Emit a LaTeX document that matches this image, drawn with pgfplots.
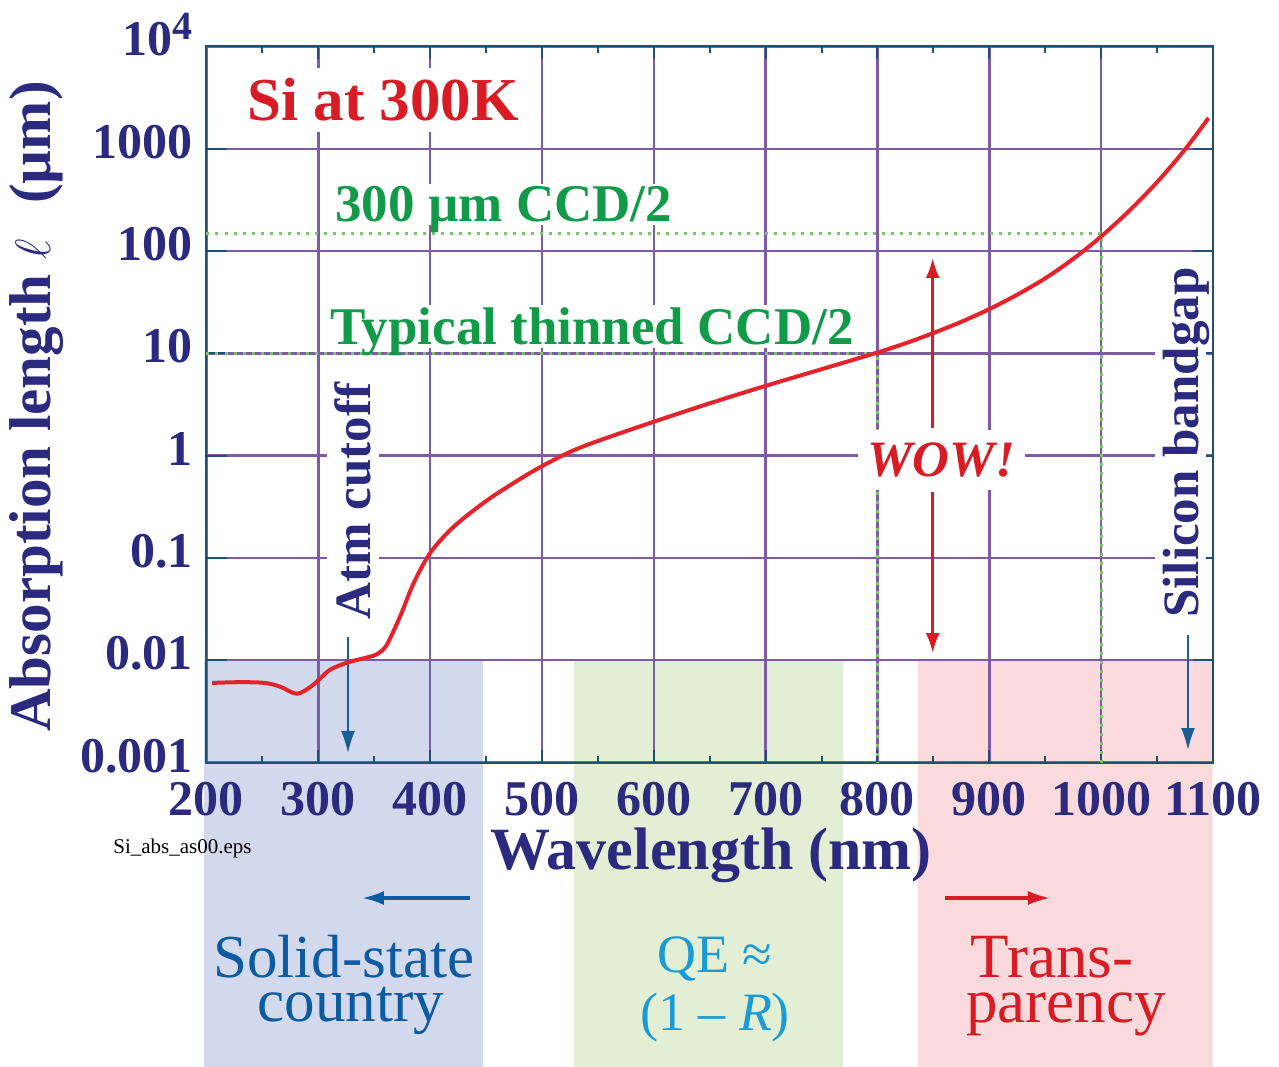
\documentclass[border=0pt]{standalone}
\usepackage{fontspec}
\setmainfont{Liberation Serif}
\usepackage{pgfplots}
\pgfplotsset{compat=1.18}
\usetikzlibrary{arrows.meta}
\definecolor{navy}{HTML}{2B2A7F}
\definecolor{frame}{HTML}{1F4E79}
\definecolor{gridc}{HTML}{7D5BA6}
\definecolor{redt}{HTML}{D91B24}
\definecolor{curvec}{HTML}{E8222A}
\definecolor{greent}{HTML}{119A48}
\definecolor{greendot}{HTML}{7DC36B}
\definecolor{rectblue}{HTML}{D3D9EC}
\definecolor{rectgreen}{HTML}{E2EFD5}
\definecolor{rectpink}{HTML}{FADADD}
\definecolor{solidblue}{HTML}{0B5AA2}
\definecolor{qecyan}{HTML}{1A9AD7}
\definecolor{arrowblue}{HTML}{1A5E96}
\begin{document}
\begin{tikzpicture}
\begin{axis}[
  name=ax, set layers, clip=false,
  scale only axis, width=503.25pt, height=358pt,
  xmin=200, xmax=1100, ymode=log, ymin=1e-3, ymax=1e4,
  xtick={200,300,...,1100},
  xticklabels={200,300,400,500,600,700,800,900,1000,1100},
  minor x tick num=1,
  ytick={1e-3,1e-2,1e-1,1,10,100,1000,10000},
  yticklabels={0.001,0.01,0.1,1,10,100,1000,{10\raisebox{8pt}{\fontsize{20}{20}\selectfont 4}}},
  yminorticks=false,
  grid=major,
  major grid style={color=gridc, line width=1.2pt},
  axis line style={color=frame, line width=1pt},
  every tick/.append style={color=frame, line width=1pt},
  xtick style={/pgfplots/major tick length=6.5pt, /pgfplots/minor tick length=3.5pt},
  ytick style={/pgfplots/major tick length=10pt},
  tick label style={font=\fontsize{25}{25}\selectfont\bfseries, text=navy, inner sep=0pt},
  xticklabel style={anchor=base, yshift=-26.25pt},
  yticklabel style={anchor=base east, xshift=-6.75pt, yshift=-4.75pt},
]
% shaded regions
\addplot[on layer=axis background, draw=none, fill=rectblue] coordinates {(197.8,1e-6) (447.3,1e-6) (447.3,0.01) (197.8,0.01) (197.8,1e-6)};
\addplot[on layer=axis background, draw=none, fill=rectgreen] coordinates {(528.6,1e-6) (769.2,1e-6) (769.2,0.01) (528.6,0.01) (528.6,1e-6)};
\addplot[on layer=axis background, draw=none, fill=rectpink] coordinates {(836.2,1e-6) (1099.5,1e-6) (1099.5,0.01) (836.2,0.01) (836.2,1e-6)};
% CCD thickness guides
\addplot[on layer=axis tick labels, color=greendot, line width=1.5pt, dash pattern=on 1.5pt off 3pt] coordinates {(200,150) (1000,150) (1000,0.001)};
\addplot[on layer=axis tick labels, color=greendot, line width=1.5pt, dash pattern=on 1.5pt off 3pt] coordinates {(200,10) (800,10) (800,0.001)};
% texts inside
\node[anchor=base west, fill=white, text=redt, inner xsep=3pt, inner ysep=5.5pt, text depth=0pt, font=\fontsize{30.5}{30.5}\selectfont\bfseries] at (rel axis cs:0.0343,0.8960) {Si at 300K};
\node[anchor=base west, fill=white, text=greent, inner xsep=2pt, inner ysep=1.5pt, text depth=0pt, font=\fontsize{26.5}{26.5}\selectfont\bfseries] at (rel axis cs:0.1237,0.7549) {300 µm CCD/2};
\node[anchor=base west, fill=white, text=greent, inner xsep=2pt, inner ysep=1.5pt, text depth=0pt, font=\fontsize{26.5}{26.5}\selectfont\bfseries] at (rel axis cs:0.1187,0.5831) {Typical thinned CCD/2};
\node[anchor=base, fill=white, text=redt, inner xsep=5pt, inner ysep=6.5pt, text depth=0pt, font=\fontsize{25.5}{25.5}\selectfont\bfseries\itshape] at (rel axis cs:0.7300,0.39874) {WOW!};
\node[rotate=90, anchor=base west, fill=white, text=navy, inner xsep=2pt, inner ysep=4pt, text depth=0pt, font=\fontsize{25.5}{25.5}\selectfont\bfseries] at (rel axis cs:0.9851,0.1962) {Silicon bandgap};
\node[rotate=90, anchor=base west, fill=white, text=navy, inner xsep=2pt, inner ysep=4pt, text depth=0pt, font=\fontsize{25.5}{25.5}\selectfont\bfseries] at (rel axis cs:0.1634,0.1940) {Atm cutoff};
% arrows
\draw[-{Latex[length=11pt,width=7pt]}, arrowblue, line width=0.8pt] (rel axis cs:0.14059,0.17528) -- (rel axis cs:0.14059,0.01327);
\draw[-{Latex[length=11pt,width=7pt]}, arrowblue, line width=0.8pt] (rel axis cs:0.97516,0.17807) -- (rel axis cs:0.97516,0.01746);
\draw[-{Latex[length=10pt,width=7pt]}, redt, line width=1.3pt] (rel axis cs:0.72151,0.46718) -- (rel axis cs:0.72151,0.70461);
\draw[-{Latex[length=10pt,width=7pt]}, redt, line width=1.3pt] (rel axis cs:0.72151,0.37779) -- (rel axis cs:0.72151,0.15293);
\draw[-{Latex[length=11pt,width=7pt]}, solidblue, line width=1.6pt] (rel axis cs:0.26180,-0.18925) -- (rel axis cs:0.15450,-0.18925);
\draw[-{Latex[length=11pt,width=7pt]}, redt, line width=1.6pt] (rel axis cs:0.73373,-0.18925) -- (rel axis cs:0.83805,-0.18925);
% absorption length curve
\addplot[on layer=axis foreground, color=curvec, line width=2pt, smooth] coordinates {
(205,0.0060) (230,0.0061) (252,0.0060) (266,0.0055) (281,0.0047) (295,0.0057)
(310,0.0080) (326,0.0095) (340,0.0104) (352,0.0114) (360,0.0135) (367,0.019)
(375,0.030) (383,0.050) (391,0.076) (400,0.112) (410,0.152) (420,0.197)
(431,0.25) (442,0.31) (456,0.40) (471,0.51) (486,0.645) (501,0.80)
(522,1.05) (540,1.27) (570,1.66) (603,2.2) (650,3.25) (701,4.85)
(750,7.0) (800,10.2) (825,12.55) (850,15.8) (875,20.35) (900,27.1)
(925,37.5) (950,54.2) (975,83.9) (1000,139) (1025,247) (1050,472)
(1075,985) (1096,2000)
};
% axis labels
\node[rotate=90, anchor=base, text=navy, font=\fontsize{29.5}{29.5}\selectfont\bfseries] at (rel axis cs:-0.15549,0.4972) {Absorption length $\ell$\hspace{0.6em}(µm)};
\node[anchor=base, text=navy, font=\fontsize{30}{30}\selectfont\bfseries] at (rel axis cs:0.50124,-0.14874) {Wavelength (nm)};
\node[anchor=base, text=black, font=\fontsize{10.5}{10.5}\selectfont] at (rel axis cs:-0.02385,-0.12640) {Si\_abs\_as00.eps};
% region captions
\node[anchor=base, text=solidblue, font=\fontsize{30.5}{30.5}\selectfont] at (rel axis cs:0.13661,-0.29958) {Solid-state};
\node[anchor=base, text=solidblue, font=\fontsize{30.5}{30.5}\selectfont] at (rel axis cs:0.14357,-0.36103) {country};
\node[anchor=base, text=qecyan, font=\fontsize{27}{27}\selectfont] at (rel axis cs:0.50522,-0.29260) {QE ≈};
\node[anchor=base, text=qecyan, font=\fontsize{27}{27}\selectfont] at (rel axis cs:0.50522,-0.37360) {(1 – \textit{R})};
\node[anchor=base, text=redt, font=\fontsize{31.5}{31.5}\selectfont] at (rel axis cs:0.84004,-0.29958) {Trans-};
\node[anchor=base, text=redt, font=\fontsize{31.5}{31.5}\selectfont] at (rel axis cs:0.85395,-0.36243) {parency};
\end{axis}
\pgfresetboundingbox
\path[use as bounding box] ([shift={(-103.25pt,-151.75pt)}]ax.south west) rectangle ([shift={(536.25pt,381.25pt)}]ax.south west);
\end{tikzpicture}
\end{document}
